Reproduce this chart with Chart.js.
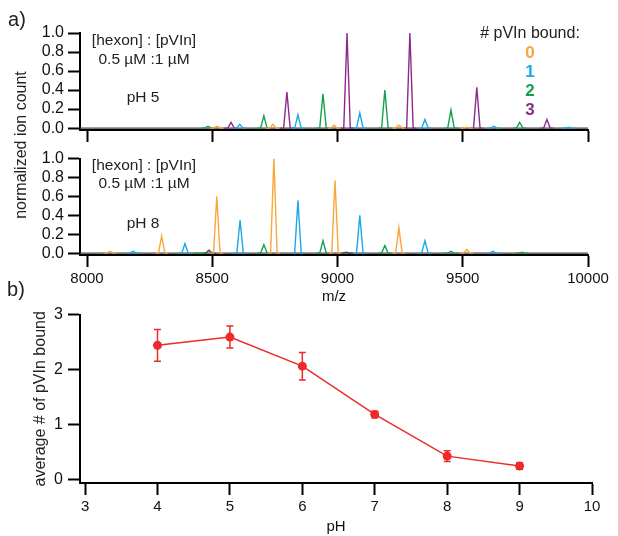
<!DOCTYPE html>
<html>
<head>
<meta charset="utf-8">
<script src="https://cdn.jsdelivr.net/npm/chart.js@4.4.1/dist/chart.umd.min.js"></script>
<style>
  body { margin: 0; background: #fff; width: 618px; height: 536px; position: relative; overflow: hidden;
         font-family: "Liberation Sans", Arial, sans-serif; color: #222; }
  canvas { position: absolute; left: 0; }
  .t { position: absolute; white-space: nowrap; line-height: 1; transform: translate(-50%, -50%); font-size: 15.5px; }
  .n { font-weight: bold; font-size: 17px; }
</style>
</head>
<body>
<canvas id="ph5" width="618" height="150" style="top:0"></canvas>
<canvas id="ph8" width="618" height="161" style="top:145px"></canvas>
<canvas id="avg" width="618" height="236" style="top:300px"></canvas>

<div class="t" style="left:17px;top:19px;font-size:20px">a)</div>
<div class="t" style="left:16px;top:289px;font-size:20px">b)</div>
<div class="t" style="left:21px;top:145px;font-size:16px;transform:translate(-50%,-50%) rotate(-90deg)">normalized ion count</div>

<div class="t" style="left:144px;top:40px">[hexon] : [pVIn]</div>
<div class="t" style="left:144px;top:59px">0.5 µM :1 µM</div>
<div class="t" style="left:143px;top:97px">pH 5</div>

<div class="t" style="left:530px;top:33px;font-size:16px"># pVIn bound:</div>
<div class="t n" style="left:530px;top:52px;color:#f9a63a">0</div>
<div class="t n" style="left:530px;top:71px;color:#1ba8e6">1</div>
<div class="t n" style="left:530px;top:90px;color:#15a04f">2</div>
<div class="t n" style="left:530px;top:109px;color:#8b2b8e">3</div>

<div class="t" style="left:144px;top:165px">[hexon] : [pVIn]</div>
<div class="t" style="left:144px;top:183px">0.5 µM :1 µM</div>
<div class="t" style="left:143px;top:223px">pH 8</div>

<script>
// ---- data: peaks as [m/z, normalized intensity], one list per # pVIn bound ----
const ph5Bound0 = [[8519, 0.02], [8742, 0.04], [8986, 0.03], [9245, 0.03], [9516, 0.01]];
const ph5Bound1 = [[8610, 0.04], [8842, 0.14], [9089, 0.16], [9349, 0.09], [9624, 0.02], [9923, 0.01]];
const ph5Bound2 = [[8483, 0.02], [8706, 0.13], [8942, 0.36], [9189, 0.40], [9453, 0.19], [9727, 0.06]];
const ph5Bound3 = [[8575, 0.06], [8798, 0.38], [9038, 1.00], [9289, 1.00], [9556, 0.43], [9836, 0.09]];

const ph8Bound0 = [[8092, 0.02], [8298, 0.18], [8518, 0.60], [8746, 1.00], [8990, 0.77], [9245, 0.27], [9516, 0.04]];
const ph8Bound1 = [[8184, 0.02], [8391, 0.10], [8611, 0.35], [8842, 0.56], [9089, 0.40], [9349, 0.13], [9620, 0.02]];
const ph8Bound2 = [[8451, 0.00], [8706, 0.09], [8942, 0.13], [9189, 0.08], [9453, 0.02], [9736, 0.01]];
const ph8Other  = [[8487, 0.03], [9035, 0.01]];

const mzTicks = [8000, 8500, 9000, 9500, 10000];
const intensityTicks = [0, 0.2, 0.4, 0.6, 0.8, 1.0];

// ---- data: panel b ----
const pH = [4, 5, 6, 7, 8, 9];
const avgBound = [2.44, 2.59, 2.06, 1.18, 0.42, 0.24];
const avgErr = [0.29, 0.20, 0.25, 0.06, 0.10, 0.06];
const pHTicks = [3, 4, 5, 6, 7, 8, 9, 10];
const avgTicks = [0, 1, 2, 3];

const colors = ['#f9a63a', '#1ba8e6', '#15a04f', '#8b2b8e'];
const font = { family: '"Liberation Sans", Arial, sans-serif', size: 15 };
const yFont = { family: font.family, size: 16 };

// peak list -> line points (each peak is a narrow spike, gaps between peaks)
function peakLine(peaks) {
  const pts = [];
  peaks.forEach(([mz, h]) => {
    pts.push({ x: mz - 26, y: 0 }, { x: mz - 13, y: 0 }, { x: mz, y: h }, { x: mz + 13, y: 0 }, { x: mz + 26, y: 0 });
    pts.push({ x: mz + 27, y: null });
  });
  return pts;
}

function axisCommon(extra) {
  return Object.assign({
    type: 'linear',
    border: { color: '#000', width: 2 },
    grid: { drawOnChartArea: false, drawTicks: true, tickLength: 12, tickWidth: 2, tickColor: '#000' },
  }, extra);
}

function spectrum(id, sets, padTop, xHeight, showLabels) {
  const datasets = sets.map(([peaks, color]) => ({
    data: peakLine(peaks), borderColor: color, borderWidth: 1.4, pointRadius: 0, spanGaps: false, tension: 0
  }));
  datasets.push({ data: [{ x: 7972, y: 0 }, { x: 10000, y: 0 }], borderColor: '#444', borderWidth: 1.2, pointRadius: 0 });
  return new Chart(document.getElementById(id), {
    type: 'line',
    data: { datasets },
    options: {
      responsive: false, animation: false, devicePixelRatio: 1,
      layout: { padding: { top: padTop, right: 30, left: 0, bottom: 0 } },
      plugins: { legend: { display: false }, tooltip: { enabled: false } },
      scales: {
        x: axisCommon({
          min: 7972, max: 10000,
          afterBuildTicks: s => { s.ticks = mzTicks.map(v => ({ value: v })); },
          afterFit: s => { s.height = xHeight; },
          ticks: { display: showLabels, autoSkip: false, color: '#111', font, padding: 3, maxRotation: 0,
                   callback: v => String(v) },
          title: { display: showLabels, text: 'm/z', color: '#111', font, padding: { top: 0, bottom: 0 } }
        }),
        y: axisCommon({
          min: -0.02, max: 1.0,
          afterBuildTicks: s => { s.ticks = intensityTicks.map(v => ({ value: v })); },
          afterFit: s => { s.width = 80; },
          ticks: { autoSkip: false, color: '#111', font: yFont, padding: 4, callback: v => v.toFixed(1) }
        })
      }
    }
  });
}

spectrum('ph5', [[ph5Bound0, colors[0]], [ph5Bound1, colors[1]], [ph5Bound2, colors[2]], [ph5Bound3, colors[3]]], 33, 20, false);
spectrum('ph8', [[ph8Bound0, colors[0]], [ph8Bound1, colors[1]], [ph8Bound2, colors[2]], [ph8Other, '#444']], 12, 51, true);

// error bars drawn through the chart's own scales
const errorBars = {
  id: 'errorBars',
  afterDatasetsDraw(chart) {
    const { ctx, scales: { x, y } } = chart;
    ctx.save();
    ctx.strokeStyle = '#ee2a2a';
    ctx.lineWidth = 1.5;
    pH.forEach((p, i) => {
      const px = x.getPixelForValue(p);
      const top = y.getPixelForValue(avgBound[i] + avgErr[i]);
      const bot = y.getPixelForValue(avgBound[i] - avgErr[i]);
      ctx.beginPath();
      ctx.moveTo(px, top); ctx.lineTo(px, bot);
      ctx.moveTo(px - 3.5, top); ctx.lineTo(px + 3.5, top);
      ctx.moveTo(px - 3.5, bot); ctx.lineTo(px + 3.5, bot);
      ctx.stroke();
    });
    ctx.restore();
  }
};

new Chart(document.getElementById('avg'), {
  type: 'line',
  data: {
    datasets: [{
      data: pH.map((p, i) => ({ x: p, y: avgBound[i] })),
      borderColor: '#ee2a2a', backgroundColor: '#ee2a2a', borderWidth: 1.5,
      pointRadius: 4.5, pointBorderWidth: 0, tension: 0
    }]
  },
  options: {
    responsive: false, animation: false, devicePixelRatio: 1,
    layout: { padding: { top: 13, right: 26, left: 0, bottom: 0 } },
    plugins: { legend: { display: false }, tooltip: { enabled: false } },
    scales: {
      x: axisCommon({
        min: 2.93, max: 10,
        afterBuildTicks: s => { s.ticks = pHTicks.map(v => ({ value: v })); },
        afterFit: s => { s.height = 53; },
        ticks: { autoSkip: false, color: '#111', font, padding: 3, maxRotation: 0 },
        title: { display: true, text: 'pH', color: '#111', font, padding: { top: 0, bottom: 0 } }
      }),
      y: axisCommon({
        min: -0.07, max: 3,
        afterBuildTicks: s => { s.ticks = avgTicks.map(v => ({ value: v })); },
        afterFit: s => { s.width = 80; },
        ticks: { autoSkip: false, color: '#111', font: yFont, padding: 5 },
        title: { display: true, text: 'average # of pVIn bound', color: '#222',
                 font: yFont, padding: { top: 31, bottom: 0 } }
      })
    }
  },
  plugins: [errorBars]
});
</script>
</body>
</html>
